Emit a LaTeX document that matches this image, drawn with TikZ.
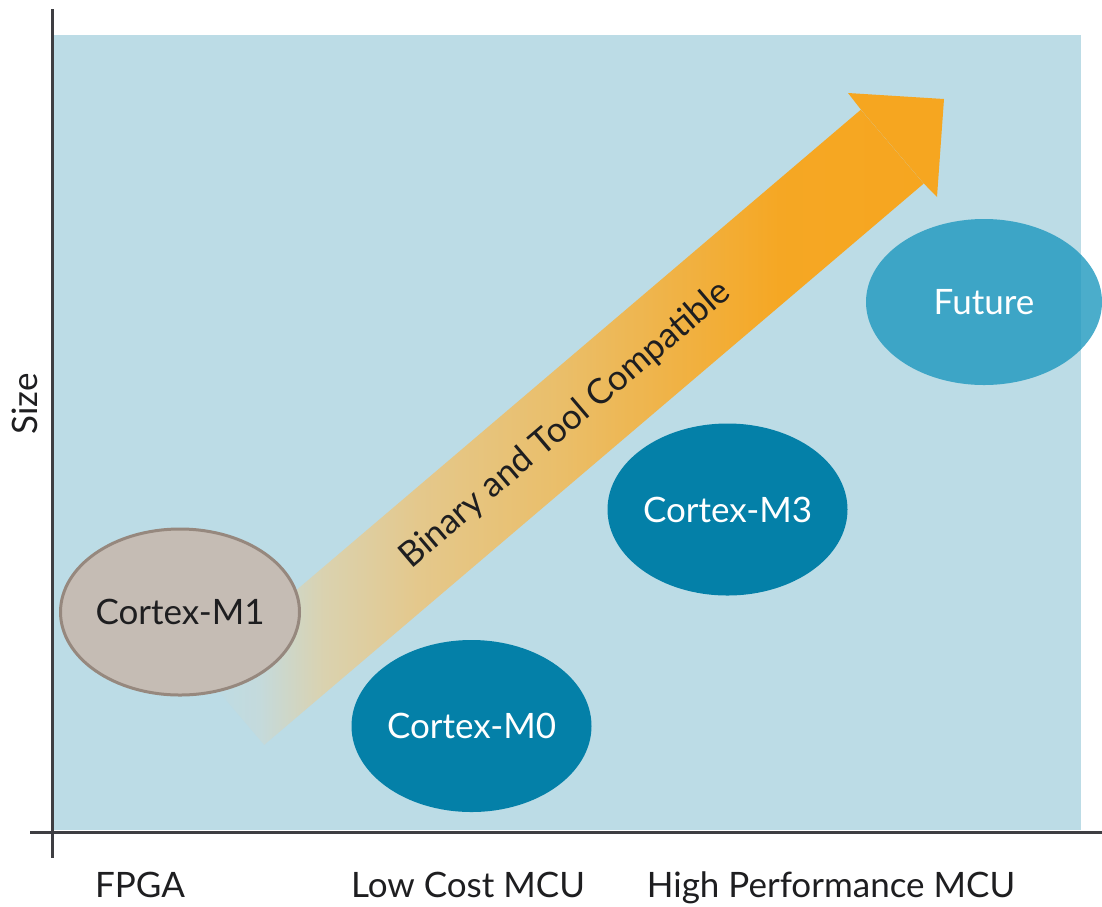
\documentclass[tikz,border=0pt]{standalone}
\usepackage{fontspec}
\setmainfont{Lato}
\usetikzlibrary{shapes.geometric}
\definecolor{plotbg}{RGB}{188,220,230}
\definecolor{axisgrey}{RGB}{62,62,66}
\definecolor{arroworange}{RGB}{246,166,32}
\definecolor{arrowtan}{RGB}{234,190,105}
\definecolor{arrowsand}{RGB}{228,200,140}
\definecolor{arrowcream}{RGB}{218,210,175}
\definecolor{arrowmist}{RGB}{196,218,220}
\definecolor{fpgagrey}{RGB}{197,188,180}
\definecolor{fpgarim}{RGB}{150,136,126}
\definecolor{mcublue}{RGB}{4,128,168}
\definecolor{futureblue}{RGB}{30,152,190}
\definecolor{inkdark}{RGB}{30,30,32}
\pgfdeclarehorizontalshading{arrowfade}{100bp}{color(0bp)=(plotbg); color(25bp)=(plotbg);
  color(29bp)=(arrowmist); color(33.5bp)=(arrowcream); color(40bp)=(arrowsand);
  color(50bp)=(arrowtan); color(65bp)=(arroworange!95!arrowtan); color(75bp)=(arroworange);
  color(100bp)=(arroworange)}
\tikzset{
  core/.style={ellipse, inner sep=0pt, minimum width=240pt, minimum height=172pt,
    fill=mcublue, text=white},
  axislabel/.style={text=inkdark, anchor=base},
}
\begin{document}
\begin{tikzpicture}[x=1pt,y=-1pt,font=\fontsize{35}{42}\selectfont]
\useasboundingbox (0,0) rectangle (1102,906);
\coordinate (top) at (52,9);
\coordinate (bottom) at (52,858);
\coordinate (left) at (30,832);
\coordinate (right) at (1102,832);
%
\fill[plotbg] (54,35) rectangle (1081,830);
\draw[axisgrey, line width=3pt] (top) -- (bottom);
\draw[axisgrey, line width=3pt] (left) -- (right);
%
\node[rotate=40.4, minimum width=866pt, minimum height=97pt, inner sep=0pt,
  shading=arrowfade, text=inkdark, font=\fontsize{35}{42}\selectfont]
  (shaft) at (562.5,427.3) {\hspace{8pt}Binary and Tool Compatible};
\coordinate (back1) at (848,93);
\coordinate (tip) at (944,99);
\coordinate (back2) at (937,197);
\fill[arroworange] (shaft.north east) -- (back1) -- (tip) -- (back2) -- (shaft.south east) -- cycle;
%
\node[core, draw=fpgarim, line width=3pt, fill=fpgagrey, text=inkdark,
  minimum width=237pt, minimum height=166pt] (m1) at (180,612) {Cortex-M1};
\node[core] (m0) at (471.5,726) {Cortex-M0};
\node[core] (m3) at (727.5,509.5) {Cortex-M3};
\node[core, fill=futureblue, fill opacity=0.8, text opacity=1,
  minimum width=236pt, minimum height=166pt] (future) at (984,302) {Future};
%
\node[axislabel] (fpga) at (140,897) {FPGA};
\node[axislabel] (lowcost) at (468,897) {Low Cost MCU};
\node[axislabel] (highperf) at (831,897) {High Performance MCU};
\node[axislabel, rotate=90] (size) at (37,404) {Size};
%
\end{tikzpicture}
\end{document}
